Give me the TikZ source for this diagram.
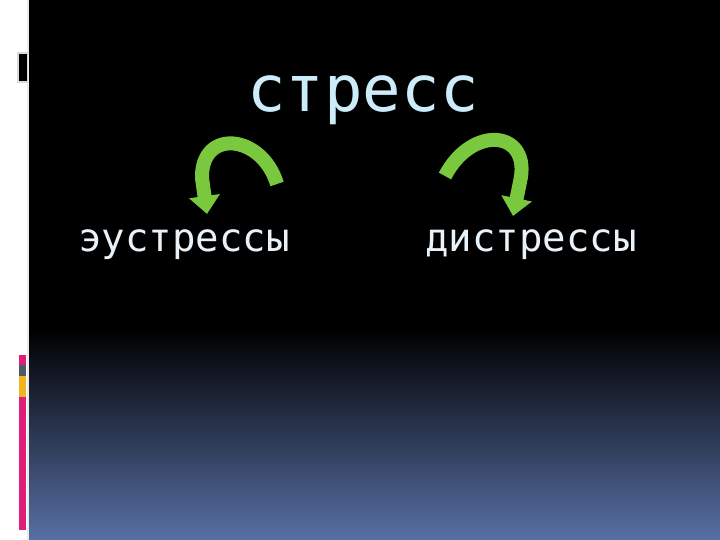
\documentclass[tikz,border=0pt]{standalone}
\usepackage{xcolor}
\usepackage{fontspec}
\setmonofont{DejaVu Sans Mono}
\usepackage{tikz}
\definecolor{titleblue}{RGB}{205, 236, 250}
\definecolor{labelwhite}{RGB}{232, 242, 248}
\definecolor{arrowgreen}{RGB}{122, 200, 62}
\definecolor{bottomblue}{RGB}{88, 112, 165}
\definecolor{markpink}{RGB}{222, 30, 120}
\definecolor{markgray}{RGB}{78, 90, 102}
\definecolor{markyellow}{RGB}{242, 180, 30}
\usetikzlibrary{arrows.meta, positioning}

\begin{document}
\begin{tikzpicture}[
    x=0.5pt, y=-0.5pt,
    heading/.style={font=\ttfamily\fontsize{32}{32}\selectfont, text=titleblue, inner sep=0pt},
    kind/.style={font=\ttfamily\fontsize{19.5}{19.5}\selectfont, text=labelwhite, inner sep=0pt},
    curvearrow/.style={line width=7pt, draw=arrowgreen, -{Triangle[width=15pt, length=9pt]}}
]
    % slide background
    \useasboundingbox (0,0) rectangle (720,540);
    \fill[white] (0,0) rectangle (720,540);
    \fill[black] (29,0) rectangle (720,331);
    \shade[top color=black, bottom color=bottomblue] (29,330) rectangle (720,540);
    \fill[black!8] (27,0) rectangle (29,540);

    % left marks
    \fill[black!15] (17,52) rectangle (28,83);
    \fill[black] (19,54) rectangle (27,81);
    \fill[markpink] (19,355) rectangle (26,365);
    \fill[markgray] (19,365) rectangle (26,376);
    \fill[markyellow] (19,376) rectangle (26,397);
    \fill[markpink] (19,397) rectangle (26,530);

    % texts
    \node[heading, anchor=base] (title) at (363,112) {стресс};
    \node[kind, anchor=base west] (eu) at (78,252) {эустрессы};
    \node[kind, anchor=base west] (dis) at (425,252) {дистрессы};

    % arrows
    \coordinate (eutail) at (277,184);
    \coordinate (eutip) at (207,214);
    \coordinate (distail) at (445,176);
    \coordinate (distip) at (513,216);
    \draw[curvearrow] (eutail) .. controls (262,134) and (201,128) .. (202,178) -- (eutip);
    \draw[curvearrow] (distail) .. controls (472,124) and (532,130) .. (520,182) -- (distip);
\end{tikzpicture}
\end{document}
